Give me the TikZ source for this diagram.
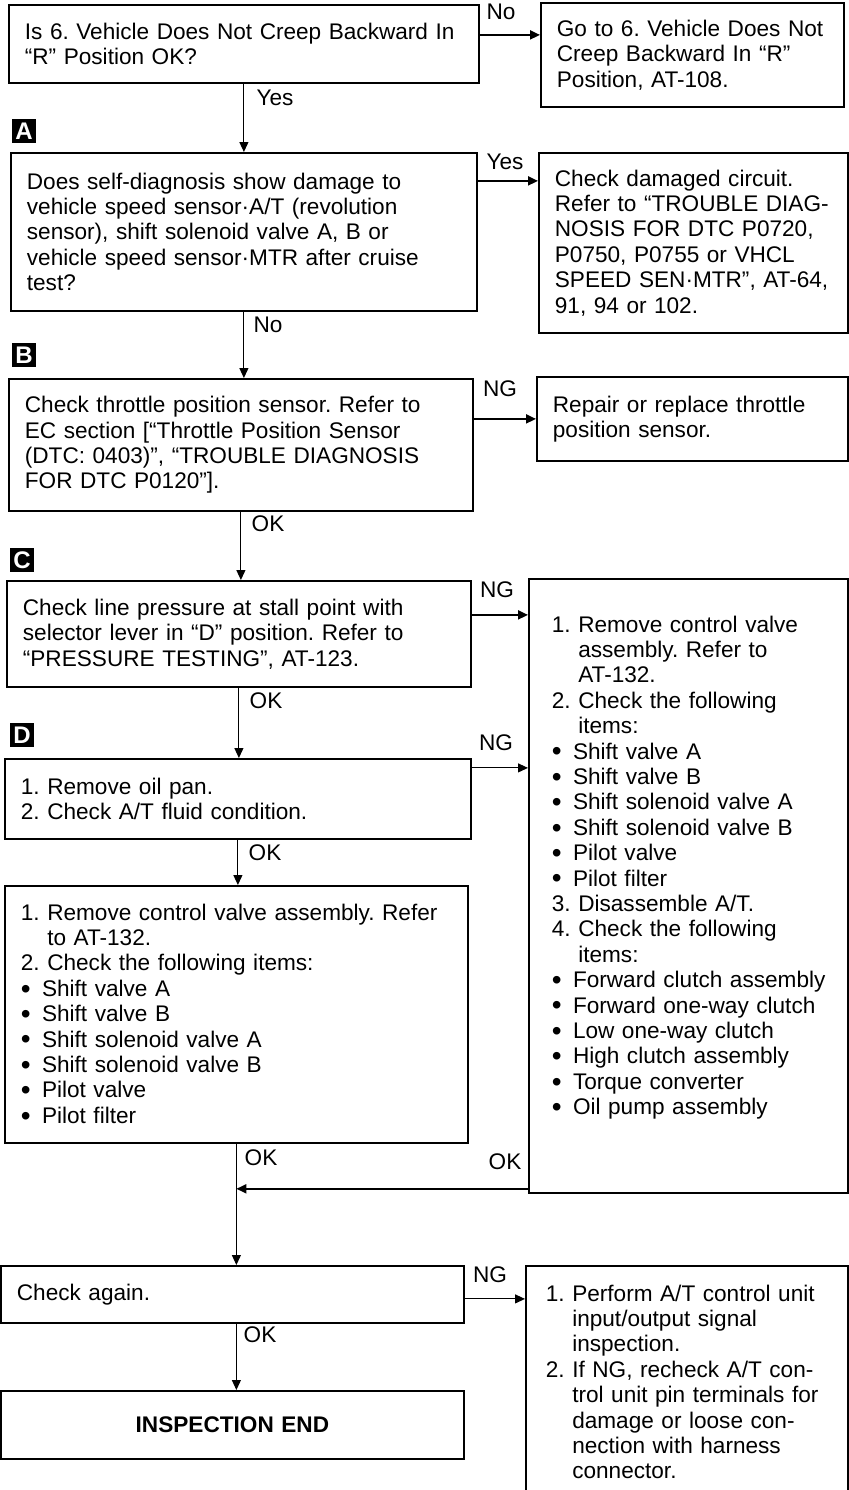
\documentclass[tikz,border=0pt]{standalone}
\usepackage{fontspec}
\setmainfont{Liberation Sans}
\usetikzlibrary{arrows.meta}
\newcommand{\hng}{\hphantom{1.\ }}
\newcommand{\itm}{\raisebox{-0.9pt}{\fontsize{14pt}{12pt}\selectfont\textbullet}\hspace{0.5em}}
\begin{document}
\begin{tikzpicture}[x=0.5pt,y=-0.5pt,
	font=\fontsize{11.3pt}{12.7pt}\selectfont\frenchspacing,
	box/.style={draw,line width=0.9pt,anchor=north west,inner xsep=0pt,inner ysep=0pt,align=left,
		execute at begin node={\leftskip=8pt\relax}},
	bw/.style={minimum width=#1,text width=#1},
	tag/.style={fill=black,text=white,font=\fontsize{12pt}{12pt}\selectfont\bfseries,minimum size=12pt,inner sep=0pt},
	arr/.style={-{Triangle[length=5pt,width=4.5pt]},line width=0.55pt},
	thk/.style={line width=0.95pt}]

	\useasboundingbox (0,0) rectangle (849,1490);

	\node [box,bw=235pt,minimum height=39pt] (q1) at (8,4)
		{Is 6. Vehicle Does Not Creep Backward In\\“R” Position OK?};
	\node [box,bw=151.5pt,minimum height=52pt] (r1) at (540,2)
		{Go to 6. Vehicle Does Not\\Creep Backward In “R”\\Position, AT-108.};

	\node [tag] (tA) at (24,131) {A};
	\node [box,bw=233pt,minimum height=79pt] (q2) at (10,152)
		{Does self-diagnosis show damage to\\vehicle speed sensor·A/T (revolution\\sensor), shift solenoid valve A, B or\\vehicle speed sensor·MTR after cruise\\test?};
	\node [box,bw=154.5pt,minimum height=90pt] (r2) at (538,152)
		{Check damaged circuit.\\Refer to “TROUBLE DIAG-\\NOSIS FOR DTC P0720,\\P0750, P0755 or VHCL\\SPEED SEN·MTR”, AT-64,\\91, 94 or 102.};

	\node [tag] (tB) at (24,355) {B};
	\node [box,bw=232pt,minimum height=66pt] (q3) at (8,378)
		{Check throttle position sensor. Refer to\\EC section [“Throttle Position Sensor\\(DTC: 0403)”, “TROUBLE DIAGNOSIS\\FOR DTC P0120”].};
	\node [box,bw=155.5pt,minimum height=42pt] (r3) at (536,376)
		{Repair or replace throttle\\position sensor.};

	\node [tag] (tC) at (22,560) {C};
	\node [box,bw=232pt,minimum height=53pt] (q4) at (6,580)
		{Check line pressure at stall point with\\selector lever in “D” position. Refer to\\“PRESSURE TESTING”, AT-123.};
	\node [box,bw=159.5pt,minimum height=307pt,execute at begin node={\leftskip=11.5pt\relax}] (r4) at (528,578)
		{1. Remove control valve\\\hng assembly. Refer to\\\hng AT-132.\\2. Check the following\\\hng items:\\\itm Shift valve A\\\itm Shift valve B\\\itm Shift solenoid valve A\\\itm Shift solenoid valve B\\\itm Pilot valve\\\itm Pilot filter\\3. Disassemble A/T.\\4. Check the following\\\hng items:\\\itm Forward clutch assembly\\\itm Forward one-way clutch\\\itm Low one-way clutch\\\itm High clutch assembly\\\itm Torque converter\\\itm Oil pump assembly\\[8pt]\mbox{}};

	\node [tag] (tD) at (22,735) {D};
	\node [box,bw=233pt,minimum height=40pt] (q5) at (4,758)
		{1. Remove oil pan.\\2. Check A/T fluid condition.};
	\node [box,bw=231.5pt,minimum height=128.5pt] (q6) at (4,885)
		{1. Remove control valve assembly. Refer\\\hng to AT-132.\\2. Check the following items:\\\itm Shift valve A\\\itm Shift valve B\\\itm Shift solenoid valve A\\\itm Shift solenoid valve B\\\itm Pilot valve\\\itm Pilot filter};

	\node [box,bw=231.5pt,minimum height=28.5pt] (q7) at (0,1265)
		{Check again.};
	\node [box,bw=161pt,minimum height=116pt,execute at begin node={\leftskip=10pt\relax}] (r7) at (525,1265)
		{1. Perform A/T control unit\\\hng input/output signal\\\hng inspection.\\2. If NG, recheck A/T con-\\\hng trol unit pin terminals for\\\hng damage or loose con-\\\hng nection with harness\\\hng connector.};
	\node [box,bw=231.5pt,minimum height=34pt,execute at begin node={\centering},font=\fontsize{11.3pt}{12.7pt}\selectfont\bfseries] (q8) at (0,1390)
		{INSPECTION END};

	\draw [arr,thk] ([yshift=4.5pt]q1.east) -- ([yshift=4.5pt]q1.east -| r1.west);
	\draw [arr] (q1.south) -- (q2.north);
	\draw [arr,thk] ([yshift=25.5pt]q2.east) -- ([yshift=25.5pt]q2.east -| r2.west);
	\draw [arr] (q2.south) -- (q2.south |- q3.north);
	\draw [arr,thk] ([yshift=13pt]q3.east) -- ([yshift=13pt]q3.east -| r3.west);
	\draw [arr] (q3.south) -- (q3.south |- q4.north);
	\draw [arr,thk] ([yshift=9.5pt]q4.east) -- ([yshift=9.5pt]q4.east -| r4.west);
	\draw [arr] (q4.south) -- (q4.south |- q5.north);
	\draw [arr] ([yshift=15.5pt]q5.east) -- ([yshift=15.5pt]q5.east -| r4.west);
	\draw [arr] (q5.south) -- (q5.south |- q6.north);
	\draw [arr] (q6.south) -- (q6.south |- q7.north);
	\coordinate (j) at ([yshift=2.5pt]r4.south -| q6.south);
	\draw [arr,thk] ([yshift=2.5pt]r4.south -| r4.west) -- (j);
	\draw [arr] ([yshift=-2.25pt]q7.east) -- ([yshift=-2.25pt]q7.east -| r7.west);
	\draw [arr] (q7.south -| q6.south) -- (q6.south |- q8.north);

	\node (lNo1) at (501,12) {No};
	\node (lYes1) at (275,98) {Yes};
	\node (lYes2) at (505,162) {Yes};
	\node (lNo2) at (268,325) {No};
	\node (lNG3) at (500,389) {NG};
	\node (lOK3) at (268,524) {OK};
	\node (lNG4) at (497,590) {NG};
	\node (lOK4) at (266,701) {OK};
	\node (lNG5) at (496,743) {NG};
	\node (lOK5) at (265,853) {OK};
	\node (lOK6) at (261,1158) {OK};
	\node (lOKr) at (505,1162) {OK};
	\node (lNG7) at (490,1275) {NG};
	\node (lOK7) at (260,1335) {OK};
\end{tikzpicture}
\end{document}
